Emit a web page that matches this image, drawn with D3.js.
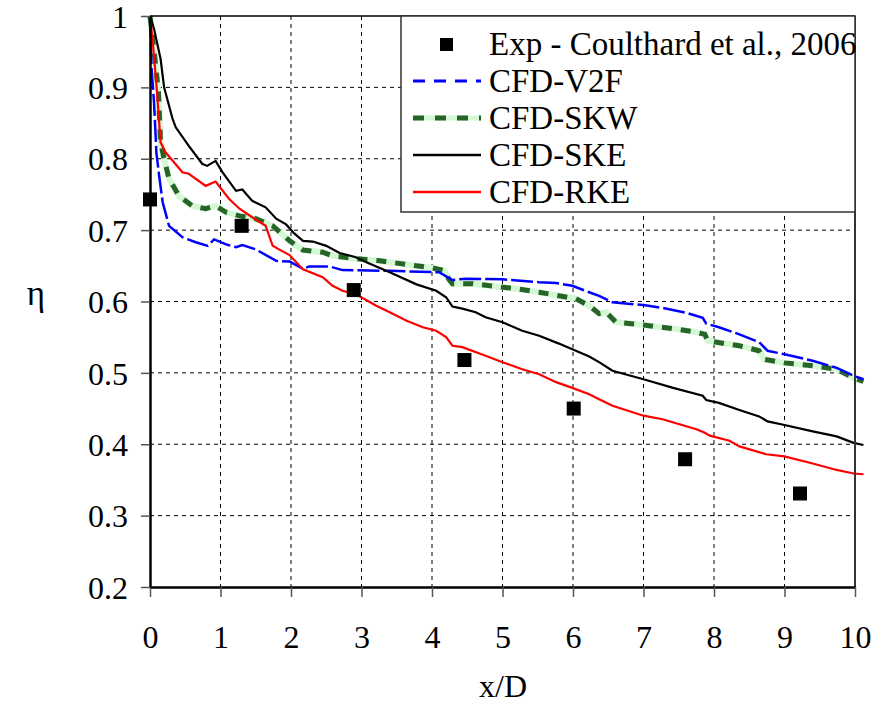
<!DOCTYPE html>
<html><head><meta charset="utf-8">
<script src="https://cdn.jsdelivr.net/npm/d3@7"></script>
<style>body{margin:0;background:#fff;}</style>
</head><body>
<svg id="c" width="874" height="706"></svg>
<script>
const FONT = "'Liberation Serif','Times New Roman',serif";
const xTicks = [0,1,2,3,4,5,6,7,8,9,10];
const yTicks = [0.2,0.3,0.4,0.5,0.6,0.7,0.8,0.9,1];
const yTickLabels = ["0.2","0.3","0.4","0.5","0.6","0.7","0.8","0.9","1"];
const seriesNames = ["Exp - Coulthard et al., 2006","CFD-V2F","CFD-SKW","CFD-SKE","CFD-RKE"];

const expX = [0, 1.30, 2.89, 4.46, 6.01, 7.59, 9.22];
const expY = [0.743, 0.706, 0.616, 0.518, 0.450, 0.379, 0.331];

const v2f = [[0,1.0],[0.02,0.93],[0.057,0.879],[0.08,0.832],[0.09,0.809],[0.13,0.776],[0.18,0.739],[0.27,0.706],[0.46,0.69],[0.65,0.683],[0.82,0.678],[0.91,0.687],[1.08,0.68],[1.22,0.676],[1.31,0.679],[1.5,0.673],[1.79,0.657],[1.98,0.656],[2.17,0.646],[2.26,0.649],[2.55,0.649],[2.73,0.644],[3.4,0.643],[4.1,0.641],[4.29,0.63],[4.48,0.632],[5.0,0.631],[5.52,0.627],[5.76,0.626],[5.99,0.622],[6.23,0.613],[6.37,0.608],[6.56,0.599],[7.0,0.595],[7.27,0.591],[7.61,0.584],[7.84,0.577],[7.89,0.569],[8.07,0.564],[8.36,0.554],[8.64,0.543],[8.76,0.531],[9.0,0.526],[9.4,0.517],[9.74,0.507],[9.98,0.496],[10.12,0.491]];

const skw = [[0,1.0],[0.07,0.94],[0.12,0.893],[0.15,0.823],[0.2,0.8],[0.27,0.772],[0.41,0.748],[0.6,0.734],[0.79,0.73],[0.93,0.734],[1.08,0.725],[1.27,0.72],[1.5,0.716],[1.74,0.706],[1.98,0.685],[2.17,0.672],[2.45,0.669],[2.59,0.664],[2.92,0.66],[3.26,0.657],[3.64,0.652],[4.01,0.647],[4.18,0.643],[4.24,0.631],[4.29,0.625],[4.57,0.625],[5.0,0.62],[5.19,0.618],[5.52,0.613],[5.8,0.608],[6.04,0.604],[6.23,0.594],[6.37,0.583],[6.47,0.585],[6.61,0.571],[7.0,0.567],[7.42,0.562],[7.75,0.557],[7.87,0.554],[7.91,0.545],[8.22,0.54],[8.36,0.538],[8.64,0.531],[8.71,0.519],[9.0,0.514],[9.4,0.51],[9.74,0.505],[9.98,0.493],[10.12,0.488]];

const ske = [[0,1.0],[0.057,0.982],[0.15,0.94],[0.2,0.90],[0.32,0.856],[0.365,0.844],[0.55,0.818],[0.74,0.793],[0.81,0.79],[0.93,0.797],[1.03,0.781],[1.22,0.755],[1.31,0.757],[1.45,0.741],[1.64,0.732],[1.79,0.716],[1.93,0.708],[2.05,0.695],[2.17,0.685],[2.31,0.684],[2.5,0.678],[2.69,0.668],[2.92,0.662],[3.07,0.655],[3.4,0.641],[3.78,0.624],[4.06,0.615],[4.2,0.606],[4.29,0.593],[4.43,0.59],[4.62,0.585],[4.76,0.578],[5.0,0.571],[5.28,0.559],[5.52,0.552],[5.8,0.541],[5.99,0.533],[6.23,0.523],[6.37,0.515],[6.56,0.503],[7.0,0.491],[7.42,0.479],[7.84,0.468],[7.89,0.462],[8.07,0.458],[8.36,0.448],[8.64,0.439],[8.76,0.432],[9.0,0.427],[9.4,0.418],[9.74,0.411],[9.98,0.402],[10.12,0.399]];

const rke = [[0,1.0],[0.04,0.963],[0.1,0.893],[0.15,0.823],[0.22,0.809],[0.46,0.781],[0.55,0.779],[0.79,0.762],[0.93,0.768],[1.12,0.744],[1.27,0.730],[1.45,0.718],[1.64,0.706],[1.74,0.678],[1.83,0.673],[1.98,0.665],[2.17,0.645],[2.45,0.634],[2.59,0.622],[2.73,0.615],[2.92,0.61],[3.21,0.594],[3.4,0.585],[3.64,0.573],[3.87,0.564],[4.06,0.559],[4.2,0.55],[4.29,0.538],[4.43,0.536],[4.76,0.524],[5.0,0.515],[5.28,0.505],[5.52,0.498],[5.76,0.487],[5.99,0.479],[6.23,0.47],[6.37,0.463],[6.56,0.454],[7.0,0.44],[7.27,0.435],[7.75,0.421],[7.87,0.416],[7.94,0.412],[8.22,0.405],[8.36,0.397],[8.74,0.386],[9.0,0.383],[9.4,0.373],[9.74,0.364],[9.98,0.359],[10.12,0.358]];

const svg = d3.select("#c");
const L = 150, R = 855, T = 16, B = 587;
const x = d3.scaleLinear().domain([0,10]).range([L,R]);
const y = d3.scaleLinear().domain([0.2,1]).range([B,T]);

// grid
const g = svg.append("g");
g.selectAll(".vg").data(xTicks.slice(1,-1)).enter().append("line")
  .attr("x1",d=>x(d)).attr("x2",d=>x(d)).attr("y1",T).attr("y2",B)
  .attr("stroke","#000").attr("stroke-width",1).attr("stroke-dasharray","4,4");
g.selectAll(".hg").data(yTicks.slice(1,-1)).enter().append("line")
  .attr("y1",d=>y(d)).attr("y2",d=>y(d)).attr("x1",L).attr("x2",R)
  .attr("stroke","#000").attr("stroke-width",1).attr("stroke-dasharray","4,4");

const line = d3.line().x(d=>x(d[0])).y(d=>y(d[1]));

// curves
svg.append("path").datum(skw).attr("d",line).attr("fill","none").attr("stroke","#d4f7d4").attr("stroke-width",6);
svg.append("path").datum(skw).attr("d",line).attr("fill","none").attr("stroke","#276427").attr("stroke-width",5).attr("stroke-dasharray","10,9");
svg.append("path").datum(v2f).attr("d",line).attr("fill","none").attr("stroke","#0000ff").attr("stroke-width",2.5).attr("stroke-dasharray","22,4");
svg.append("path").datum(ske).attr("d",line).attr("fill","none").attr("stroke","#000").attr("stroke-width",2.2);
svg.append("path").datum(rke).attr("d",line).attr("fill","none").attr("stroke","#ff0000").attr("stroke-width",2.2);

// exp points
svg.selectAll(".pt").data(expX).enter().append("rect")
  .attr("x",(d)=>x(d)-7).attr("y",(d,i)=>y(expY[i])-7).attr("width",14).attr("height",14).attr("fill","#000");

// frame
svg.append("line").attr("x1",L).attr("x2",R).attr("y1",T).attr("y2",T).attr("stroke","#000").attr("stroke-width",1.5);
svg.append("line").attr("x1",R).attr("x2",R).attr("y1",T).attr("y2",B).attr("stroke","#333").attr("stroke-width",2);

// axes
const xAxis = d3.axisBottom(x).tickValues(xTicks).tickSize(10).tickSizeOuter(0).tickFormat(d3.format("d"));
const xa = svg.append("g").attr("transform",`translate(0,${B})`).call(xAxis);
xa.attr("font-family",FONT).attr("font-size",32);
xa.select(".domain").attr("stroke","#000").attr("stroke-width",2.5);
xa.selectAll(".tick line").attr("stroke","#555").attr("stroke-width",1.5);
xa.selectAll(".tick text").attr("dy",0).attr("y",61).attr("fill","#000");

const yAxis = d3.axisLeft(y).tickValues(yTicks).tickSize(9).tickSizeOuter(0).tickFormat((d,i)=>yTickLabels[i]);
const ya = svg.append("g").attr("transform",`translate(${L},0)`).call(yAxis);
ya.attr("font-family",FONT).attr("font-size",32);
ya.select(".domain").attr("stroke","#000").attr("stroke-width",2.5);
ya.selectAll(".tick line").attr("stroke","#555").attr("stroke-width",1.5);
ya.selectAll(".tick text").attr("x",-22).attr("dy","0.35em").attr("fill","#000");

// axis titles
svg.append("text").attr("x",503).attr("y",697).attr("text-anchor","middle").attr("font-family",FONT).attr("font-size",32).text("x/D");
svg.append("text").attr("x",36).attr("y",305).attr("text-anchor","middle").attr("font-family",FONT).attr("font-size",35).text("η");

// legend
const lg = svg.append("g");
lg.append("rect").attr("x",401).attr("y",16).attr("width",454).attr("height",196)
  .attr("fill","#fff").attr("stroke","#333").attr("stroke-width",1.5);
const rows = [44,81,118,155,192];
lg.append("rect").attr("x",440).attr("y",rows[0]-6).attr("width",13).attr("height",13).attr("fill","#000");
lg.append("line").attr("x1",413).attr("x2",481).attr("y1",rows[1]).attr("y2",rows[1]).attr("stroke","#0000ff").attr("stroke-width",3).attr("stroke-dasharray","12,9");
lg.append("line").attr("x1",413).attr("x2",481).attr("y1",rows[2]).attr("y2",rows[2]).attr("stroke","#d4f7d4").attr("stroke-width",5);
lg.append("line").attr("x1",413).attr("x2",481).attr("y1",rows[2]).attr("y2",rows[2]).attr("stroke","#276427").attr("stroke-width",5).attr("stroke-dasharray","11,11");
lg.append("line").attr("x1",413).attr("x2",481).attr("y1",rows[3]).attr("y2",rows[3]).attr("stroke","#000").attr("stroke-width",2.5);
lg.append("line").attr("x1",413).attr("x2",481).attr("y1",rows[4]).attr("y2",rows[4]).attr("stroke","#ff0000").attr("stroke-width",2.5);
lg.selectAll(".lt").data(seriesNames).enter().append("text")
  .attr("x",489).attr("y",(d,i)=>rows[i]+11).attr("font-family",FONT).attr("font-size",33).attr("fill","#000").text(d=>d);
</script>
</body></html>
